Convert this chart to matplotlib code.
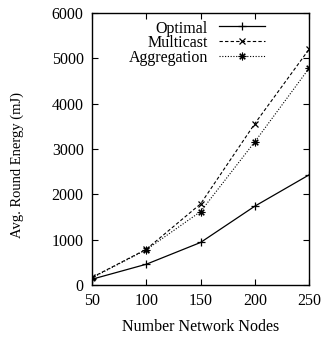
import matplotlib
matplotlib.use("Agg")
import matplotlib.pyplot as plt

nodes = [50, 100, 150, 200, 250]
optimal = [130, 460, 940, 1740, 2430]
multicast = [170, 790, 1790, 3560, 5200]
aggregation = [160, 780, 1620, 3160, 4780]

plt.rcParams['font.family'] = ['Liberation Serif', 'DejaVu Serif']
plt.rcParams['font.size'] = 11.5

fig = plt.figure(figsize=(3.23, 3.39), dpi=100)
ax = fig.add_axes([0.285, 0.159, 0.672, 0.803])

ax.plot(nodes, optimal, color='black', lw=0.9, ls='-', marker='+', ms=6, mew=0.9, label='Optimal')
ax.plot(nodes, multicast, color='black', lw=0.8, ls=(0, (3, 2)), marker='x', ms=5, mew=0.9, label='Multicast')
ax.plot(nodes, aggregation, color='black', lw=0.8, ls=(0, (1, 1.5)), marker=(8, 2, 0), ms=5.5, mew=0.8, label='Aggregation')

ax.set_xlim(50, 250)
ax.set_ylim(0, 6000)
ax.set_xticks(nodes)
ax.set_yticks([0, 1000, 2000, 3000, 4000, 5000, 6000])
ax.tick_params(direction='in', top=True, right=True, length=4, width=0.8, labelsize=11.5)
ax.tick_params(axis='y', pad=6)
ax.tick_params(axis='x', pad=6)
for s in ax.spines.values():
    s.set_linewidth(1.0)

ax.set_xlabel('Number Network Nodes', fontsize=11.5)
ax.set_ylabel('Avg. Round Energy (mJ)', fontsize=10.5)
ax.xaxis.set_label_coords(0.5, -0.125)
ax.yaxis.set_label_coords(-0.315, 0.44)

leg = ax.legend(loc='upper left', bbox_to_anchor=(0.138, 0.995), frameon=False, markerfirst=False,
                handlelength=2.9, handletextpad=0.7, labelspacing=-0.08, fontsize=11.5,
                borderaxespad=0.0)
leg._legend_box.align = 'right'
for vp in leg._legend_box.get_children()[1].get_children():
    for c in vp.get_children():
        c.align = 'right'
for t in leg.get_texts():
    t.set_ha('right')

fig.savefig('out.png', dpi=100)
